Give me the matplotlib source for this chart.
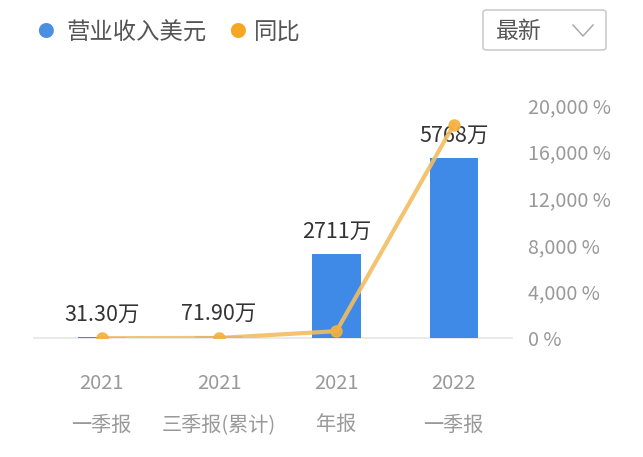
import matplotlib.pyplot as plt
from matplotlib.patches import FancyBboxPatch
from matplotlib.lines import Line2D
import numpy as np

plt.rcParams['font.family'] = ['Noto Sans CJK SC', 'DejaVu Sans']

years = ["2021", "2021", "2021", "2022"]
periods = ["一季报", "三季报(累计)", "年报", "一季报"]
revenue = [31.30, 71.90, 2711, 5768]          # 万美元
revenue_labels = ["31.30万", "71.90万", "2711万", "5768万"]
yoy = [0, 20, 600, 18328]                     # %
pct_ticks = [0, 4000, 8000, 12000, 16000, 20000]

bar_color = "#3f8ae6"
line_color = "#f2bd62"
tick_gray = "#999999"

W, H = 643, 457
fig = plt.figure(figsize=(6.43, 4.57), dpi=100)
ax = fig.add_axes([0.067, 0.26, 0.73, 0.51])
ax2 = ax.twinx()

x = np.arange(len(revenue))
ax.bar(x, revenue, width=0.41, color=bar_color, zorder=2)
ax.set_ylim(0, 7466)
ax.set_xlim(-0.5, 3.5)
ax.set_yticks([])
ax.axhline(0, color="#e6e6e6", lw=1.2, zorder=1, xmin=-0.02, xmax=1.0, clip_on=False)

for xi, v, lab in zip(x, revenue, revenue_labels):
    ax.annotate(lab, (xi, v), xytext=(0, 8), textcoords="offset points",
                ha="center", va="bottom", fontsize=15.5, color="#333333")

ax.set_xticks(x)
ax.set_xticklabels([y + "\n" + p for y, p in zip(years, periods)],
                   fontsize=14.5, color=tick_gray, linespacing=2.3)
ax.tick_params(axis="x", length=0, pad=25)

ax2.plot(x, yoy, color=line_color, lw=3, marker="o", markersize=8,
         markerfacecolor="#f5b040", markeredgecolor="#f5b040", alpha=0.9, zorder=3)
ax2.set_ylim(0, 20000)
ax2.set_yticks(pct_ticks)
ax2.set_yticklabels([f"{t:,} %" for t in pct_ticks], fontsize=14.2, color=tick_gray)
ax2.tick_params(axis="y", length=0, pad=11)

for a in (ax, ax2):
    for s in a.spines.values():
        s.set_visible(False)
    a.patch.set_visible(False)

# legend
fig.text(45 / W, 1 - 33 / H, "●", color="#4a90e2", fontsize=12, ha="center", va="center")
fig.text(66 / W, 1 - 33 / H, "营业收入美元", color="#555555", fontsize=16.8, ha="left", va="center")
fig.text(237 / W, 1 - 33 / H, "●", color="#f5a623", fontsize=12, ha="center", va="center")
fig.text(254 / W, 1 - 33 / H, "同比", color="#555555", fontsize=16.8, ha="left", va="center")

# dropdown box
box = FancyBboxPatch((483 / W, 1 - 50 / H), 123 / W, 40 / H,
                     boxstyle="round,pad=0,rounding_size=0.006",
                     transform=fig.transFigure, facecolor="white",
                     edgecolor="#cccccc", lw=1.2)
fig.patches.append(box)
fig.text(519 / W, 1 - 31 / H, "最新", color="#555555", fontsize=16.5, ha="center", va="center")
fig.lines.append(Line2D([573 / W, 583 / W, 593 / W], [1 - 25 / H, 1 - 36 / H, 1 - 25 / H],
                        transform=fig.transFigure, color="#aaaaaa", lw=1.1))

fig.savefig("out.png", dpi=100)
